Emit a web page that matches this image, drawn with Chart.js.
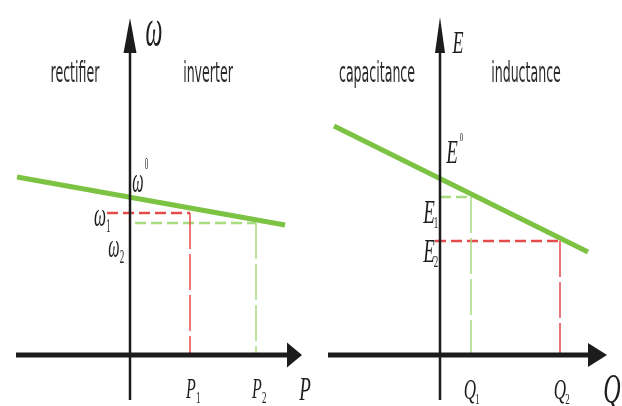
<!DOCTYPE html>
<html><head><meta charset="utf-8">
<script src="https://cdn.jsdelivr.net/npm/chart.js@4/dist/chart.umd.min.js"></script>
<style>
html,body{margin:0;padding:0;background:#fff;}
#wrap{display:flex;width:622px;height:406px;background:#fff;}
canvas{display:block;filter:blur(0.4px);}
</style></head><body>
<div id="wrap"><canvas id="c1" width="311" height="406"></canvas><canvas id="c2" width="311" height="406"></canvas></div>
<script>
// ===== Left panel: P – ω droop (arbitrary units) =====
const pAxisX = [-11.4, 15.7];     // horizontal axis (arrow tip drawn beyond end)
const pAxisY = [-4.5, 30.2];      // vertical axis
const pDroopP = [-11.3, 15.5];    // droop line, P values
const pDroopW = [17.8, 13.0];     // droop line, ω values
const pNominal = 15.8;            // ω* on the axis
const pOperP = [6.0, 12.6];       // P1, P2
const pOperW = [14.2, 13.2];      // ω1, ω2
const pDashStart = [-2.3, 0.5];   // where the horizontal guides start
const pTickLabels = ['P', 'P'];
const pTickSubs = ['1', '2'];
const pLevelSubs = ['1', '2'];
const pRegions = ['rectifier', 'inverter'];

// ===== Right panel: Q – E droop (arbitrary units) =====
const qAxisX = [-11.2, 14.8];
const qAxisY = [-4.5, 30.2];
const qDroopQ = [-10.6, 14.8];
const qDroopE = [22.9, 10.3];
const qNominal = 17.6;            // E* on the axis
const qOperQ = [3.1, 12.0];       // Q1, Q2
const qOperE = [15.8, 11.4];      // E1, E2
const qDashStart = [0.0, -0.5];
const qTickLabels = ['Q', 'Q'];
const qTickSubs = ['1', '2'];
const qLevelSubs = ['1', '2'];
const qRegions = ['capacitance', 'inductance'];

const AXIS = '#1c1c1c', DROOP = '#7cc243', RED = '#e64b4c', LGREEN = '#a8dc80';
const WORD_FONT = '14px "DejaVu Sans Condensed", "Liberation Sans Narrow", sans-serif';
const SERIF_I = (s) => 'italic ' + s + 'px "Liberation Serif", "DejaVu Serif", serif';
const SERIF = (s) => s + 'px "Liberation Serif", "DejaVu Serif", serif';

function drawText(ctx, t, px, py) {
  ctx.save();
  ctx.translate(px, py);
  ctx.scale(1, t.sy || 1);
  ctx.fillStyle = t.color || '#1e1e1e';
  ctx.font = t.font;
  ctx.textAlign = 'center';
  ctx.textBaseline = 'alphabetic';
  ctx.fillText(t.text, 0, 0);
  const w = ctx.measureText(t.text).width;
  if (t.sub) {
    ctx.font = t.subFont || SERIF(9);
    ctx.textAlign = 'left';
    ctx.fillText(t.sub, w / 2 + (t.subDx || 0), t.subDy || 3);
  }
  if (t.sup) {
    ctx.font = t.supFont || SERIF(8);
    ctx.textAlign = 'left';
    ctx.fillText(t.sup, w / 2 + (t.supDx || 0), t.supDy || -12);
  }
  ctx.restore();
}

const overlay = {
  id: 'overlay',
  afterDatasetsDraw(chart, args, o) {
    const { ctx, scales: { x, y } } = chart;
    ctx.save();
    for (const a of o.arrows) {
      const bx = x.getPixelForValue(a.x), by = y.getPixelForValue(a.y);
      ctx.fillStyle = AXIS;
      ctx.beginPath();
      if (a.dir === 'up') {
        ctx.moveTo(bx, by - a.len); ctx.lineTo(bx - a.w / 2, by); ctx.lineTo(bx + a.w / 2, by);
      } else {
        ctx.moveTo(bx + a.len, by); ctx.lineTo(bx, by - a.w / 2); ctx.lineTo(bx, by + a.w / 2);
      }
      ctx.closePath(); ctx.fill();
    }
    for (const t of o.texts) {
      drawText(ctx, t, x.getPixelForValue(t.x) + (t.dx || 0), y.getPixelForValue(t.y) + (t.dy || 0));
    }
    ctx.restore();
  }
};

function seg(x0, y0, x1, y1) { return [{ x: x0, y: y0 }, { x: x1, y: y1 }]; }
function ds(data, color, width, dash, order) {
  return { data, borderColor: color, borderWidth: width, borderDash: dash || [], showLine: true,
           pointRadius: 0, borderCapStyle: 'butt', order, fill: false, tension: 0 };
}

function makeChart(id, cfg) {
  return new Chart(document.getElementById(id), {
    type: 'scatter',
    data: { datasets: [
      ds(seg(cfg.axisX[0], 0, cfg.axisX[1], 0), AXIS, 5, null, 0),
      ds(seg(0, cfg.axisY[0], 0, cfg.axisY[1]), AXIS, 2.5, null, 0),
      ds(seg(cfg.droopX[0], cfg.droopY[0], cfg.droopX[1], cfg.droopY[1]), DROOP, 5, null, 1),
      ds(seg(cfg.dashStart[0], cfg.operY[0], cfg.operX[0], cfg.operY[0]), cfg.c1, 2.5, [11, 5], 2),
      ds(seg(cfg.operX[0], cfg.operY[0], cfg.operX[0], 0), cfg.c1, 1.5, [36, 5], 2),
      ds(seg(cfg.dashStart[1], cfg.operY[1], cfg.operX[1], cfg.operY[1]), cfg.c2, 2.5, [11, 5], 2),
      ds(seg(cfg.operX[1], cfg.operY[1], cfg.operX[1], 0), cfg.c2, 1.5, [36, 5], 2)
    ] },
    options: {
      responsive: false, animation: false, devicePixelRatio: 1,
      layout: { padding: 0 },
      plugins: { legend: { display: false }, tooltip: { enabled: false }, title: { display: false },
                 overlay: { arrows: cfg.arrows, texts: cfg.texts } },
      scales: {
        x: { type: 'linear', display: false, min: cfg.xr[0], max: cfg.xr[1] },
        y: { type: 'linear', display: false, min: -5.1, max: 35.5 }
      }
    },
    plugins: [overlay]
  });
}

// Left chart
makeChart('c1', {
  axisX: pAxisX, axisY: pAxisY, droopX: pDroopP, droopY: pDroopW,
  operX: pOperP, operY: pOperW, dashStart: pDashStart, c1: RED, c2: LGREEN,
  xr: [-13.0, 18.1],
  arrows: [{ x: pAxisX[1], y: 0, dir: 'right', len: 15, w: 25 },
           { x: 0, y: pAxisY[1], dir: 'up', len: 35, w: 13 }],
  texts: [
    { text: pRegions[0], x: -5.5, y: 27.3, font: WORD_FONT, sy: 2.0, color: '#2a2a2a' },
    { text: pRegions[1], x: 7.8, y: 27.3, font: WORD_FONT, sy: 2.0, color: '#2a2a2a' },
    { text: 'ω', x: 0, y: pAxisY[1], dx: 24, dy: -8, font: SERIF_I(24), sy: 2.2 },
    { text: 'ω', x: 0, y: pNominal, dx: 8, dy: -5, font: SERIF_I(16), sy: 2.3, sup: '0', supFont: SERIF(7), supDx: 1, supDy: -10 },
    { text: 'ω', x: 0, y: pOperW[0], dx: -30, dy: 13, font: SERIF_I(17), sy: 2.0, sub: pLevelSubs[0], subDx: 0, subDy: 3 },
    { text: 'ω', x: 0, y: pOperW[1], dx: -16, dy: 34, font: SERIF_I(16), sy: 2.1, sub: pLevelSubs[1], subDx: 0, subDy: 3 },
    { text: pTickLabels[0], x: pOperP[0], y: 0, dx: 1, dy: 43, font: SERIF_I(16), sy: 1.8, sub: pTickSubs[0], subDx: 0, subDy: 3 },
    { text: pTickLabels[1], x: pOperP[1], y: 0, dx: 1, dy: 43, font: SERIF_I(16), sy: 1.8, sub: pTickSubs[1], subDx: 0, subDy: 3 },
    { text: 'P', x: pAxisX[1], y: 0, dx: 18, dy: 45, font: SERIF_I(19), sy: 1.8 }
  ]
});

// Right chart
makeChart('c2', {
  axisX: qAxisX, axisY: qAxisY, droopX: qDroopQ, droopY: qDroopE,
  operX: qOperQ, operY: qOperE, dashStart: qDashStart, c1: LGREEN, c2: RED,
  xr: [-12.9, 18.2],
  arrows: [{ x: qAxisX[1], y: 0, dir: 'right', len: 19, w: 24 },
           { x: 0, y: qAxisY[1], dir: 'up', len: 36, w: 10 }],
  texts: [
    { text: qRegions[0], x: -6.3, y: 27.3, font: WORD_FONT, sy: 2.0, color: '#2a2a2a' },
    { text: qRegions[1], x: 8.6, y: 27.3, font: WORD_FONT, sy: 2.0, color: '#2a2a2a' },
    { text: 'E', x: 0, y: qAxisY[1], dx: 18, dy: 0, font: SERIF_I(18), sy: 1.8 },
    { text: 'E', x: 0, y: qNominal, dx: 12, dy: -16, font: SERIF_I(19), sy: 1.8, sup: '0', supFont: SERIF(7), supDx: 2, supDy: -12 },
    { text: 'E', x: 0, y: qOperE[0], dx: -11, dy: 26, font: SERIF_I(19), sy: 1.8, sub: qLevelSubs[0], subDx: -1, subDy: 3 },
    { text: 'E', x: 0, y: qOperE[1], dx: -11, dy: 21, font: SERIF_I(19), sy: 1.8, sub: qLevelSubs[1], subDx: -1, subDy: 3 },
    { text: qTickLabels[0], x: qOperQ[0], y: 0, dx: -1, dy: 44, font: SERIF_I(17), sy: 1.7, sub: qTickSubs[0], subDx: -1, subDy: 3 },
    { text: qTickLabels[1], x: qOperQ[1], y: 0, dx: 0, dy: 44, font: SERIF_I(17), sy: 1.7, sub: qTickSubs[1], subDx: -1, subDy: 3 },
    { text: 'Q', x: qAxisX[1], y: 0, dx: 24, dy: 48, font: SERIF_I(24), sy: 1.75 }
  ]
});
</script>
</body></html>
